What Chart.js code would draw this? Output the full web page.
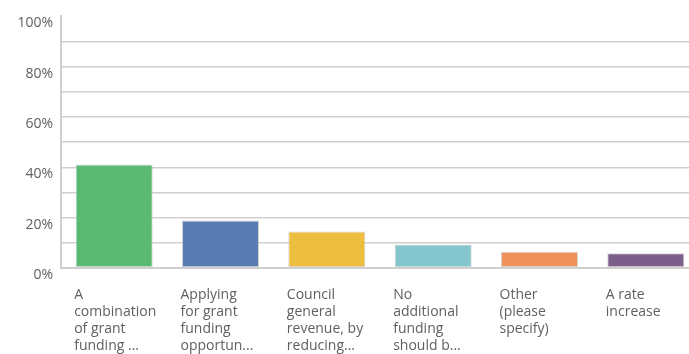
<!DOCTYPE html>
<html>
<head>
<meta charset="utf-8">
<script src="https://cdn.jsdelivr.net/npm/chart.js@4/dist/chart.umd.min.js"></script>
<style>
  html, body { margin: 0; padding: 0; background: #fff; overflow: hidden; }
  #wrap { position: relative; width: 700px; height: 354px; }
</style>
</head>
<body>
<div id="wrap"><canvas id="c"></canvas></div>
<script>
// Survey answers (truncated as in the response summary)
const categories = [
  ["A", "combination", "of grant", "funding ..."],
  ["Applying", "for grant", "funding", "opportun..."],
  ["Council", "general", "revenue, by", "reducing..."],
  ["No", "additional", "funding", "should b..."],
  ["Other", "(please", "specify)"],
  ["A rate", "increase"]
];
// Share of respondents, percent
const responses = [41.1, 18.9, 14.5, 9.3, 6.5, 5.9];
const barColors = ["#5bba72", "#587bb1", "#ecbd3e", "#82c5cc", "#ef9159", "#7c5e8b"];
const yTickValues = [0, 20, 40, 60, 80, 100];

const textColor = "#606060";
const gridColor = "#cfcfcf";

new Chart(document.getElementById("c"), {
  type: "bar",
  data: {
    labels: categories,
    datasets: [{
      data: responses,
      backgroundColor: barColors,
      borderColor: "rgba(200,200,200,0.75)",
      borderWidth: 1,
      borderSkipped: false,
      categoryPercentage: 1,
      barPercentage: 0.725
    }]
  },
  options: {
    responsive: true,
    maintainAspectRatio: false,
    animation: false,
    layout: { padding: { top: 11, right: 1, left: 1, bottom: 0 } },
    plugins: { legend: { display: false }, tooltip: { enabled: false } },
    scales: {
      x: {
        grid: { display: false, drawTicks: false },
        border: { display: true, color: gridColor, width: 2 },
        ticks: {
          color: textColor,
          font: { family: "'Open Sans', sans-serif", size: 14, weight: 500, lineHeight: 1.2 },
          align: "start",
          labelOffset: -40,
          padding: 19,
          maxRotation: 0,
          autoSkip: false
        },
        afterFit(scale) {
          scale.height = 86;
          // labels hang past the right edge; keep the plot area full width
          scale.paddingLeft = 0;
          scale.paddingRight = 0;
        }
      },
      y: {
        min: 0,
        max: 100,
        ticks: {
          stepSize: 10,
          autoSkip: false,
          color: textColor,
          font: { family: "'Open Sans', sans-serif", size: 14, weight: 500 },
          padding: 8,
          labelOffset: 7,
          callback: (v) => yTickValues.includes(v) ? v + "%" : ""
        },
        grid: {
          drawTicks: false,
          lineWidth: 1.5,
          color: (ctx) => (ctx.tick && ctx.tick.value === 100) ? "rgba(0,0,0,0)" : gridColor
        },
        border: { display: true, color: gridColor, width: 2 },
        afterFit(scale) { scale.width = 60; }
      }
    }
  }
});
</script>
</body>
</html>
